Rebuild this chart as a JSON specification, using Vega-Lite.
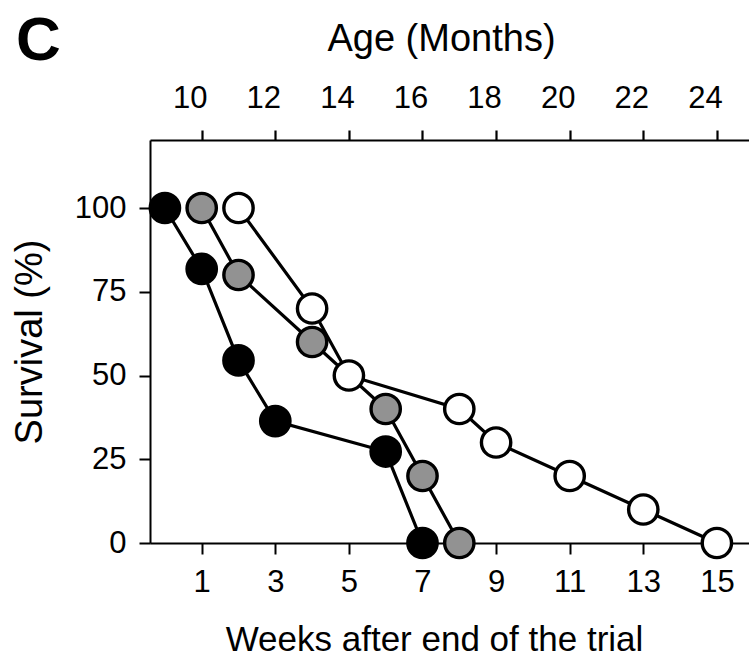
{
  "$schema": "https://vega.github.io/schema/vega-lite/v6.json",
  "autosize": {"type": "none"},
  "padding": {"left": 150, "top": 140, "right": 0, "bottom": 118},
  "width": 600,
  "height": 403,
  "background": "white",
  "title": {
    "text": "C",
    "anchor": "start",
    "frame": "group",
    "fontSize": 62,
    "fontWeight": "bold",
    "font": "Liberation Sans",
    "color": "black",
    "dx": -134,
    "dy": 57
  },
  "data": {
    "values": [
      {"group": "Group 1", "week": 0, "survival": 100},
      {"group": "Group 1", "week": 1, "survival": 81.8},
      {"group": "Group 1", "week": 2, "survival": 54.5},
      {"group": "Group 1", "week": 3, "survival": 36.4},
      {"group": "Group 1", "week": 6, "survival": 27.3},
      {"group": "Group 1", "week": 7, "survival": 0},
      {"group": "Group 2", "week": 1, "survival": 100},
      {"group": "Group 2", "week": 2, "survival": 80},
      {"group": "Group 2", "week": 4, "survival": 60},
      {"group": "Group 2", "week": 6, "survival": 40},
      {"group": "Group 2", "week": 7, "survival": 20},
      {"group": "Group 2", "week": 8, "survival": 0},
      {"group": "Group 3", "week": 2, "survival": 100},
      {"group": "Group 3", "week": 4, "survival": 70},
      {"group": "Group 3", "week": 5, "survival": 50},
      {"group": "Group 3", "week": 8, "survival": 40},
      {"group": "Group 3", "week": 9, "survival": 30},
      {"group": "Group 3", "week": 11, "survival": 20},
      {"group": "Group 3", "week": 13, "survival": 10},
      {"group": "Group 3", "week": 15, "survival": 0}
    ]
  },
  "layer": [
    {
      "mark": {"type": "line", "color": "black", "strokeWidth": 3.2},
      "encoding": {
        "x": {
          "field": "week",
          "type": "quantitative",
          "scale": {"domain": [-0.405, 15.9], "nice": false, "zero": false},
          "axis": {
            "orient": "bottom",
            "values": [1, 3, 5, 7, 9, 11, 13, 15],
            "title": "Weeks after end of the trial",
            "titleX": 284,
            "ticks": true,
            "tickSize": 11,
            "labelPadding": 13,
            "titlePadding": 25,
            "titleFontSize": 35
          }
        },
        "y": {
          "field": "survival",
          "type": "quantitative",
          "scale": {"domain": [0, 120.3], "nice": false},
          "axis": {
            "values": [0, 25, 50, 75, 100],
            "title": "Survival (%)",
            "ticks": true,
            "tickSize": 11,
            "labelPadding": 13,
            "titlePadding": 25,
            "titleFontSize": 38
          }
        },
        "detail": {"field": "group"}
      }
    },
    {
      "mark": {"type": "point", "shape": "circle", "filled": true, "size": 860, "stroke": "black", "strokeWidth": 3.4, "opacity": 1},
      "encoding": {
        "x": {
          "field": "week",
          "type": "quantitative",
          "axis": {
            "orient": "top",
            "values": [1, 3, 5, 7, 9, 11, 13, 15],
            "labelExpr": "datum.value + 9",
            "title": "Age (Months)",
            "titleX": 291,
            "ticks": true,
            "tickSize": 10,
            "tickColor": "black",
            "tickWidth": 2.2,
            "labelPadding": 16,
            "labelOffset": -12,
            "titlePadding": 24,
            "titleFontSize": 38
          }
        },
        "y": {"field": "survival", "type": "quantitative"},
        "fill": {
          "field": "group",
          "type": "nominal",
          "scale": {"domain": ["Group 1", "Group 2", "Group 3"], "range": ["#000000", "#929292", "#ffffff"]},
          "legend": null
        }
      }
    }
  ],
  "resolve": {"axis": {"x": "independent"}},
  "config": {
    "view": {"stroke": null},
    "font": "Liberation Sans",
    "axis": {
      "grid": false,
      "domainColor": "black",
      "domainWidth": 2,
      "tickColor": "black",
      "tickWidth": 2,
      "labelFont": "Liberation Sans",
      "labelFontSize": 31,
      "labelColor": "black",
      "titleFont": "Liberation Sans",
      "titleFontWeight": "normal",
      "titleColor": "black"
    }
  }
}
